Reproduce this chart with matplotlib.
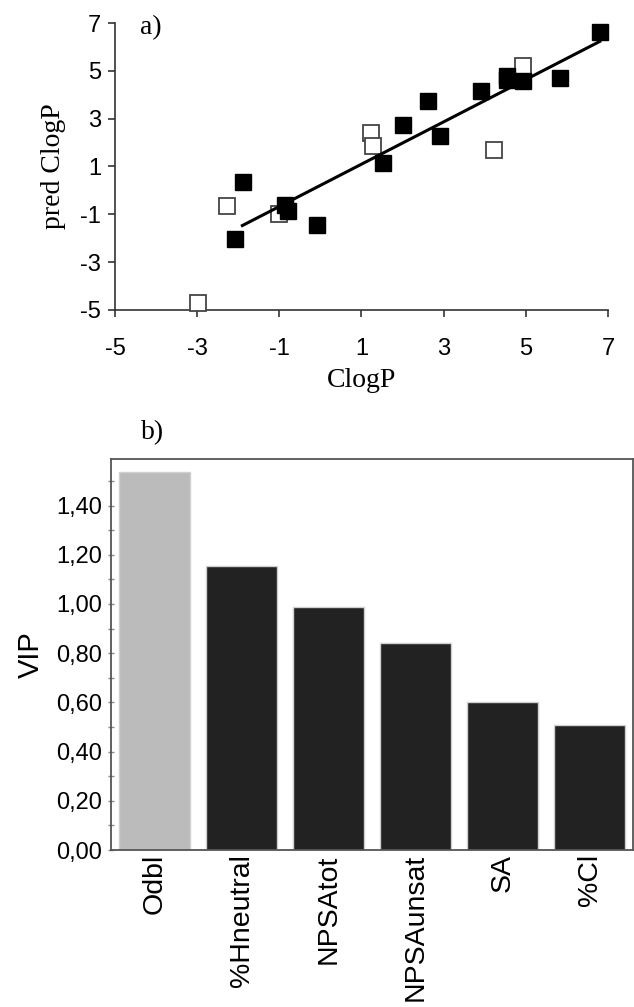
import matplotlib
matplotlib.use("Agg")
import matplotlib.pyplot as plt
from matplotlib import font_manager
import numpy as np
from matplotlib.ticker import MultipleLocator, FuncFormatter

plt.rcParams["axes.unicode_minus"] = False

# ---------------- data ----------------
# a) scatter: training set (filled) and test set (open)
train_x = [-1.88, -2.07, -0.85, -0.78, -0.08, 1.53, 2.01, 2.62, 2.91, 3.92, 4.54, 4.54, 4.93, 5.83, 6.80]
train_y = [0.37, -2.04, -0.62, -0.85, -1.44, 1.14, 2.74, 3.72, 2.26, 4.14, 4.78, 4.60, 4.56, 4.72, 6.61]
test_x = [-2.99, -2.28, -1.00, 1.22, 1.29, 4.22, 4.93]
test_y = [-4.72, -0.67, -0.98, 2.42, 1.84, 1.67, 5.21]
fit_slope = 0.885
fit_intercept = 0.212
fit_range = [-1.90, 6.80]
a_ticks = [-5, -3, -1, 1, 3, 5, 7]

# b) VIP bar chart
vip_labels = ["Odbl", "%Hneutral", "NPSAtot", "NPSAunsat", "SA", "%Cl"]
vip_values = [1.538, 1.153, 0.987, 0.841, 0.600, 0.506]
vip_colors = ["#bbbbbb", "#222222", "#222222", "#222222", "#222222", "#222222"]

# ---------------- figure ----------------
W, H = 634, 1007
fig = plt.figure(figsize=(W / 100, H / 100), dpi=100)

serif = "Liberation Serif"
sans = "Liberation Sans"
installed = {f.name for f in font_manager.fontManager.ttflist}
if "Liberation Sans Narrow" in installed:
    narrow, narrow_size = "Liberation Sans Narrow", 20
else:
    narrow, narrow_size = sans, 17

# ---- a) ----
ax1 = fig.add_axes([115 / W, 1 - 310 / H, (608 - 115) / W, (310 - 23) / H])
ax1.plot(test_x, test_y, linestyle="none", marker="s", markersize=11,
         markerfacecolor="white", markeredgecolor="#444444", markeredgewidth=1.3,
         clip_on=False, zorder=3)
ax1.plot(train_x, train_y, linestyle="none", marker="s", markersize=11.5,
         markerfacecolor="black", markeredgecolor="black", clip_on=False, zorder=4)
lx = np.array(fit_range)
ax1.plot(lx, fit_slope * lx + fit_intercept, color="black", linewidth=2.2, zorder=5)

ax1.set_xlim(-5, 7)
ax1.set_ylim(-5, 7)
ax1.set_xticks(a_ticks)
ax1.set_yticks(a_ticks)
for s in ["top", "right"]:
    ax1.spines[s].set_visible(False)
for s in ["left", "bottom"]:
    ax1.spines[s].set_color("#333333")
    ax1.spines[s].set_linewidth(1.2)
ax1.tick_params(axis="x", direction="out", length=5, width=1.2, color="#333333",
                pad=15, labelsize=17)
ax1.tick_params(axis="y", direction="out", length=5, width=1.2, color="#333333",
                pad=5, labelsize=17)
for lab in ax1.get_xticklabels() + ax1.get_yticklabels():
    lab.set_fontfamily(sans)
ax1.set_xlabel("ClogP", fontfamily=serif, fontsize=20, labelpad=6)
ax1.set_ylabel("pred ClogP", fontfamily=serif, fontsize=20, labelpad=10)
fig.text(140 / W, 1 - 28 / H, "a)", fontfamily=serif, fontsize=20,
         ha="left", va="center")

# ---- b) ----
ax2 = fig.add_axes([111 / W, 1 - 850 / H, (633 - 111) / W, (850 - 459) / H])
xpos = np.arange(len(vip_labels))
ax2.bar(xpos, vip_values, width=0.81, color=vip_colors, edgecolor="#d0d0d0",
        linewidth=1.0, zorder=2)
ax2.set_xlim(-0.5, len(vip_labels) - 0.5)
ax2.set_ylim(0, 1.589)
ax2.yaxis.set_major_locator(MultipleLocator(0.2))
ax2.yaxis.set_minor_locator(MultipleLocator(0.1))
ax2.yaxis.set_major_formatter(FuncFormatter(lambda v, p: f"{v:.2f}".replace(".", ",")))
ax2.set_xticks(xpos)
ax2.set_xticklabels(vip_labels, rotation=90, fontfamily=sans, fontsize=20.5)
for s in ax2.spines.values():
    s.set_color("#555555")
    s.set_linewidth(1.3)
ax2.tick_params(axis="x", length=0, pad=3)
ax2.tick_params(axis="y", which="both", direction="inout", length=5, width=1.0,
                color="#888888", pad=4, labelsize=narrow_size)
for lab in ax2.get_yticklabels():
    lab.set_fontfamily(narrow)
ax2.set_ylabel("VIP", fontfamily=sans, fontsize=21, labelpad=8)
fig.text(141 / W, 1 - 433 / H, "b)", fontfamily=serif, fontsize=20,
         ha="left", va="center")

fig.savefig("out.png", dpi=100)
